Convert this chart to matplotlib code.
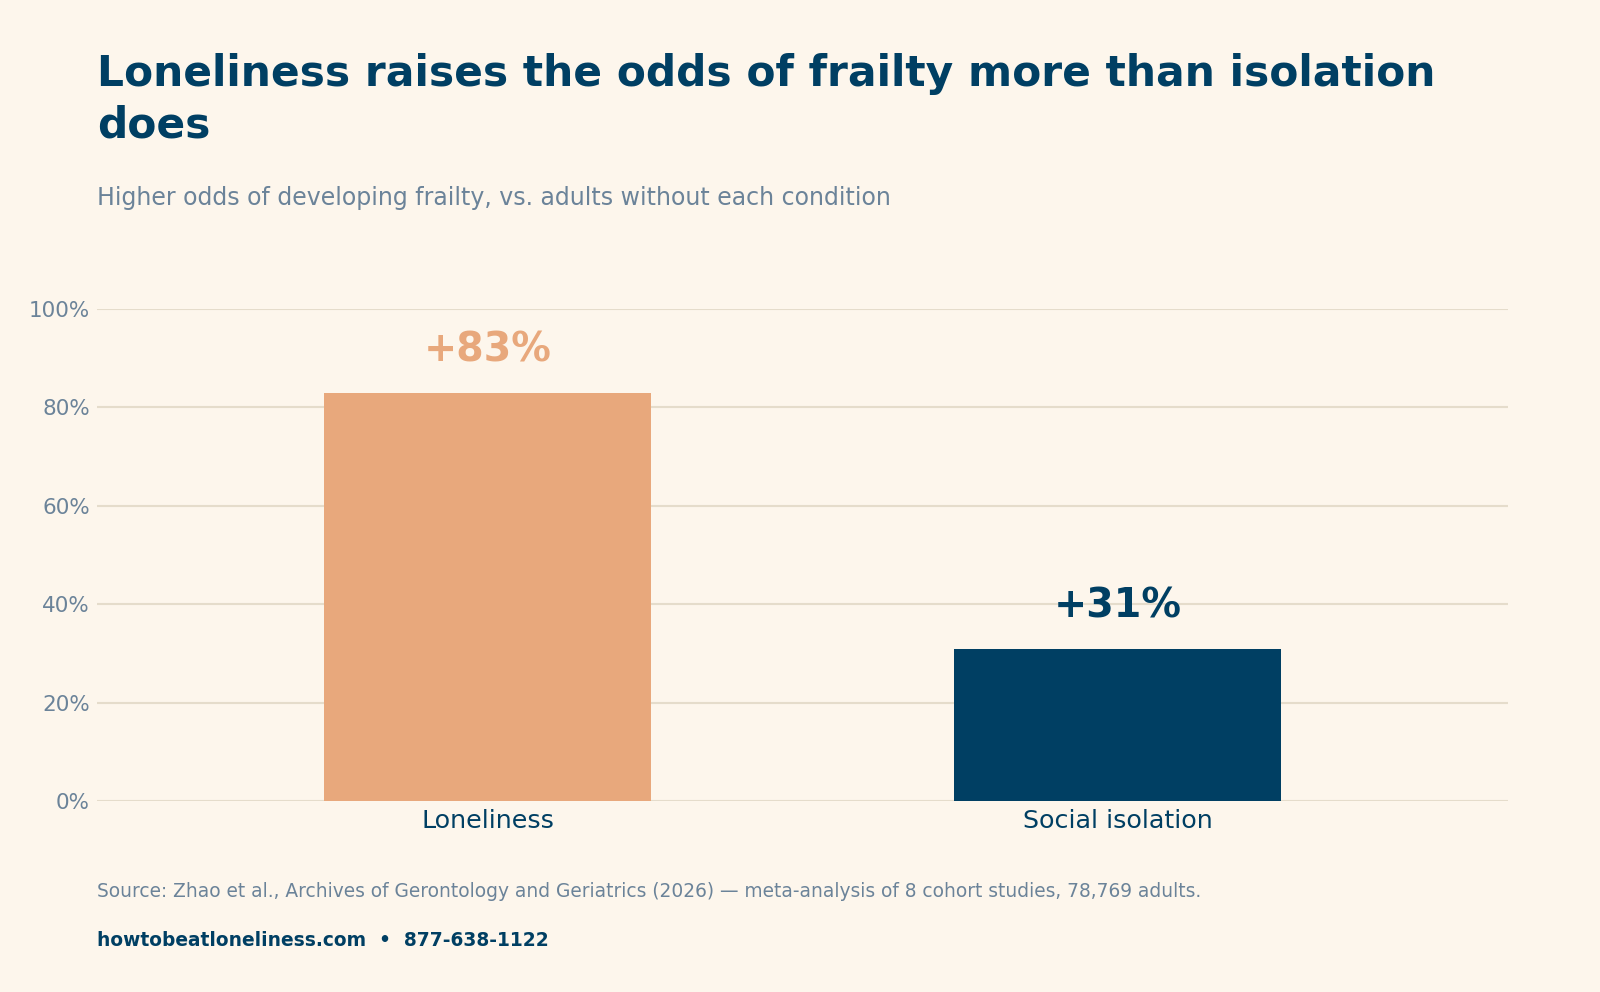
import matplotlib.pyplot as plt
from matplotlib.ticker import FuncFormatter

plt.rcParams['font.family'] = ['DejaVu Sans']

# data
categories = ['Loneliness', 'Social isolation']
odds_increase = [83, 31]
value_labels = ['+83%', '+31%']
bar_colors = ['#e8a87c', '#003f63']
yticks = [0, 20, 40, 60, 80, 100]

BG = '#fdf6ec'
NAVY = '#003f63'
GREY = '#6b8399'
GRID = '#e5dccb'

fig = plt.figure(figsize=(16, 9.92), dpi=100, facecolor=BG)
ax = fig.add_axes([0.0606, 0.1925, 0.8819, 0.496])
ax.set_facecolor(BG)

x = range(len(categories))
ax.bar(x, odds_increase, width=0.52, color=bar_colors, zorder=3)

for i, v in enumerate(odds_increase):
    ax.annotate(value_labels[i], (i, v), xytext=(0, 16), textcoords='offset points',
                ha='center', va='bottom', fontsize=28.5, fontweight='bold',
                color=bar_colors[i])

ax.set_xlim(-0.62, 1.62)
ax.set_ylim(0, 100)
ax.set_yticks(yticks)
ax.yaxis.set_major_formatter(FuncFormatter(lambda v, p: f'{v:.0f}%'))
ax.set_xticks(list(x))
ax.set_xticklabels(categories, fontsize=18.3, color=NAVY)
ax.tick_params(axis='x', length=0, pad=6)
ax.tick_params(axis='y', length=0, pad=5, labelsize=15.5, labelcolor=GREY)
ax.grid(axis='y', color=GRID, linewidth=1.5, zorder=0)
for s in ax.spines.values():
    s.set_visible(False)

# title: second line baseline
fig.text(0.0606, 1 - 137 / 992, 'Loneliness raises the odds of frailty more than isolation\ndoes',
         fontsize=30.5, fontweight='bold', color=NAVY, ha='left', va='baseline',
         linespacing=1.26)
fig.text(0.0606, 1 - 205 / 992, 'Higher odds of developing frailty, vs. adults without each condition',
         fontsize=17, color=GREY, ha='left', va='baseline')
fig.text(0.0606, 1 - 897 / 992,
         'Source: Zhao et al., Archives of Gerontology and Geriatrics (2026) \u2014 meta-analysis of 8 cohort studies, 78,769 adults.',
         fontsize=13.4, color=GREY, ha='left', va='baseline')
fig.text(0.0606, 1 - 946 / 992, 'howtobeatloneliness.com  \u2022  877-638-1122',
         fontsize=13.4, fontweight='bold', color=NAVY, ha='left', va='baseline')

fig.savefig('out.png', dpi=100, facecolor=BG)
